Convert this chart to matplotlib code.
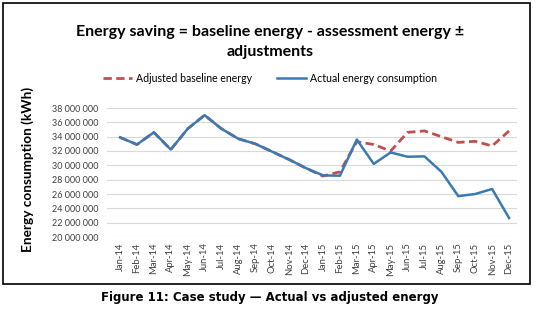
import numpy as np
import matplotlib.pyplot as plt
from matplotlib.ticker import FuncFormatter, MultipleLocator
from matplotlib.patches import Rectangle

# --- DATA (kWh, millions) ---
months = ["Jan-14", "Feb-14", "Mar-14", "Apr-14", "May-14", "Jun-14",
          "Jul-14", "Aug-14", "Sep-14", "Oct-14", "Nov-14", "Dec-14",
          "Jan-15", "Feb-15", "Mar-15", "Apr-15", "May-15", "Jun-15",
          "Jul-15", "Aug-15", "Sep-15", "Oct-15", "Nov-15", "Dec-15"]

adjusted_baseline = [33.9, 32.9, 34.6, 32.2, 35.1, 37.0, 35.1, 33.7, 33.0, 31.9, 30.8, 29.6,
                     28.5, 29.1, 33.3, 32.9, 32.0, 34.6, 34.8, 34.0, 33.2, 33.35, 32.7, 34.8]
actual = [33.9, 32.9, 34.6, 32.2, 35.1, 37.0, 35.1, 33.7, 33.0, 31.9, 30.8, 29.6,
          28.6, 28.55, 33.6, 30.2, 31.8, 31.2, 31.25, 29.1, 25.7, 26.0, 26.7, 22.65]

adjusted_baseline = np.array(adjusted_baseline) * 1e6
actual = np.array(actual) * 1e6

plt.rcParams['font.family'] = ['Lato', 'DejaVu Sans']

fig = plt.figure(figsize=(5.4, 3.2), dpi=100)

# chart frame
fig.patches.append(Rectangle((3 / 540, 1 - 284 / 320), 527 / 540, 281 / 320,
                             transform=fig.transFigure, fill=False,
                             edgecolor='black', linewidth=1.2))

ax = fig.add_axes([107 / 540, 1 - 237 / 320, 410 / 540, 129 / 320])
x = np.arange(len(months))

ax.plot(x, adjusted_baseline, color='#C0504D', linewidth=2.0, linestyle=(0, (3, 1.6)),
        label='Adjusted baseline energy')
ax.plot(x, actual, color='#3A7AB3', linewidth=1.8, label='Actual energy consumption')

ax.set_xlim(-0.77, 23.47)
ax.set_ylim(20e6, 38e6)
ax.yaxis.set_major_locator(MultipleLocator(2e6))
ax.yaxis.set_major_formatter(FuncFormatter(lambda v, p: f"{v:,.0f}".replace(",", " ")))
ax.grid(axis='y', color='#D9D9D9', linewidth=0.8)
ax.set_axisbelow(True)
for s in ax.spines.values():
    s.set_visible(False)

ax.set_xticks(x)
ax.set_xticklabels(months, rotation=90, fontsize=6.8, color='#404040')
ax.tick_params(axis='y', labelsize=6.5, colors='#404040', length=0, pad=6)
ax.tick_params(axis='x', length=0, pad=4)

ax.set_ylabel("Energy consumption (kWh)", fontsize=9.8, fontweight='bold')
ax.yaxis.set_label_coords(-0.178, 0.525)

fig.text(0.5, 1 - 32 / 320, "Energy saving = baseline energy - assessment energy \u00b1",
         ha='center', va='center', fontsize=11.5, fontweight='bold')
fig.text(0.5, 1 - 52 / 320, "adjustments",
         ha='center', va='center', fontsize=11.5, fontweight='bold')

fig.legend(loc='center', bbox_to_anchor=(0.5, 1 - 78 / 320), ncol=2, frameon=False,
           fontsize=7.6, handlelength=2.7, columnspacing=2.4, handletextpad=0.4)

fig.text(0.5, 1 - 298 / 320, "Figure 11: Case study \u2014 Actual vs adjusted energy",
         ha='center', va='center', fontsize=8.5, fontweight='bold', family='DejaVu Sans')

fig.savefig("out.png", dpi=100)
